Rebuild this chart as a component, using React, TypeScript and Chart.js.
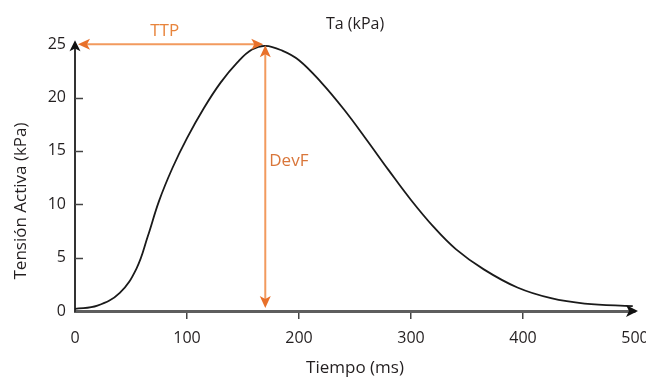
import React, { useEffect, useRef } from "react";
import { Chart, registerables } from "chart.js";

Chart.register(...registerables);

// Data
const timeMs = [0, 20, 40, 55, 65, 75, 87, 100, 115, 130, 145, 158, 170, 185, 200, 220, 240, 260, 280, 300, 320, 340, 365, 395, 425, 455, 498];
const tensionKPa = [0.2, 0.5, 1.7, 4.0, 7.0, 10.3, 13.4, 16.2, 19.0, 21.4, 23.3, 24.5, 24.85, 24.4, 23.5, 21.4, 18.9, 16.1, 13.2, 10.4, 7.9, 5.8, 3.9, 2.2, 1.2, 0.7, 0.45];
const xTicks = [0, 100, 200, 300, 400, 500];
const yTicks = [0, 5, 10, 15, 20, 25];
const ttpStart = 0;
const peakTime = 169;
const peakLevel = 25;
const devFLabelLevel = 14;

const FONT = "'Open Sans', 'Noto Sans', sans-serif";
const TEXT = "#231f20";
const ORANGE_LINE = "#f29a5e";
const ORANGE_HEAD = "#e8702a";
const ORANGE_TEXT = "#e8843c";

function head(ctx: CanvasRenderingContext2D, x: number, y: number, dx: number, dy: number, len: number, half: number, color: string) {
  const bx = x - dx * len;
  const by = y - dy * len;
  const px = -dy;
  const py = dx;
  ctx.beginPath();
  ctx.moveTo(x, y);
  ctx.lineTo(bx + px * half, by + py * half);
  ctx.lineTo(bx + dx * len * 0.25, by + dy * len * 0.25);
  ctx.lineTo(bx - px * half, by - py * half);
  ctx.closePath();
  ctx.fillStyle = color;
  ctx.fill();
}

const annotationPlugin = {
  id: "annotations",
  afterDatasetsDraw(chart: any) {
    const ctx: CanvasRenderingContext2D = chart.ctx;
    const xs = chart.scales.x;
    const ys = chart.scales.y;
    ctx.save();

    // inward y tick marks
    ctx.strokeStyle = "#444";
    ctx.lineWidth = 1.5;
    const ax = xs.getPixelForValue(0);
    yTicks.forEach((v) => {
      if (v === 0 || v === 25) return;
      const y = Math.round(ys.getPixelForValue(v)) + 0.5;
      ctx.beginPath();
      ctx.moveTo(ax, y);
      ctx.lineTo(ax + 8, y);
      ctx.stroke();
    });

    // axis arrow heads
    const y0 = ys.getPixelForValue(0);
    const yTop = ys.getPixelForValue(25);
    head(ctx, ax, yTop - 4, 0, -1, 11, 5.5, "#111");
    const xEnd = xs.getPixelForValue(500);
    head(ctx, xEnd + 3, y0, 1, 0, 12, 6, "#111");

    // TTP arrow
    const tx0 = xs.getPixelForValue(ttpStart) + 3;
    const tx1 = xs.getPixelForValue(peakTime) - 1;
    const ty = ys.getPixelForValue(peakLevel);
    ctx.strokeStyle = ORANGE_LINE;
    ctx.lineWidth = 2;
    ctx.beginPath();
    ctx.moveTo(tx0 + 6, ty);
    ctx.lineTo(tx1 - 6, ty);
    ctx.stroke();
    head(ctx, tx0, ty, -1, 0, 12, 5.5, ORANGE_HEAD);
    head(ctx, tx1, ty, 1, 0, 12, 5.5, ORANGE_HEAD);

    // DevF arrow
    const dx = xs.getPixelForValue(peakTime) + 1;
    const dy0 = ys.getPixelForValue(peakLevel) + 1;
    const dy1 = ys.getPixelForValue(0) - 3;
    ctx.beginPath();
    ctx.moveTo(dx, dy0 + 6);
    ctx.lineTo(dx, dy1 - 6);
    ctx.stroke();
    head(ctx, dx, dy0, 0, -1, 12, 5.5, ORANGE_HEAD);
    head(ctx, dx, dy1, 0, 1, 12, 5.5, ORANGE_HEAD);

    // labels
    ctx.fillStyle = ORANGE_TEXT;
    ctx.font = `17px ${FONT}`;
    ctx.textAlign = "center";
    ctx.textBaseline = "middle";
    ctx.fillText("TTP", (tx0 + tx1) / 2 - 6, ty - 13);
    ctx.fillStyle = "#d9763a";
    ctx.textAlign = "left";
    ctx.fillText("DevF", dx + 4, ys.getPixelForValue(devFLabelLevel));

    // y axis title
    ctx.fillStyle = TEXT;
    ctx.font = `17px ${FONT}`;
    ctx.translate(21, 201);
    ctx.rotate(-Math.PI / 2);
    ctx.textAlign = "center";
    ctx.fillText("Tensión Activa (kPa)", 0, 0);
    ctx.restore();
  },
};

export default function App() {
  const ref = useRef<HTMLCanvasElement | null>(null);

  useEffect(() => {
    if (!ref.current) return;
    const chart = new Chart(ref.current, {
      type: "line",
      data: {
        datasets: [
          {
            label: "Ta (kPa)",
            data: timeMs.map((t, i) => ({ x: t, y: tensionKPa[i] })),
            borderColor: "#1a1a1a",
            borderWidth: 1.8,
            pointRadius: 0,
            fill: false,
            tension: 0.4,
          },
        ],
      },
      options: {
        animation: false,
        responsive: true,
        maintainAspectRatio: false,
        layout: { padding: { left: 0, right: 11, top: 0, bottom: 0 } },
        plugins: {
          legend: { display: false },
          tooltip: { enabled: false },
          title: {
            display: true,
            text: "Ta (kPa)",
            fullSize: false,
            color: TEXT,
            font: { family: FONT, size: 16, weight: "normal" },
            padding: { top: 15, bottom: 10 },
          },
        },
        scales: {
          x: {
            type: "linear",
            min: 0,
            max: 500,
            afterBuildTicks: (s: any) => {
              s.ticks = xTicks.map((v) => ({ value: v }));
            },
            afterFit: (s: any) => {
              s.height = 67;
              s.paddingLeft = 0;
              s.paddingRight = 0;
            },
            border: { display: true, color: "#5e5e5e", width: 3 },
            grid: {
              display: true,
              drawOnChartArea: false,
              drawTicks: true,
              tickLength: 8,
              lineWidth: 1.5,
              color: (c: any) => (c.tick && (c.tick.value === 0 || c.tick.value === 500) ? "rgba(0,0,0,0)" : "#444"),
            },
            ticks: {
              color: TEXT,
              font: { family: FONT, size: 16 },
              padding: 10,
              maxRotation: 0,
              autoSkip: false,
            },
            title: {
              display: true,
              text: "Tiempo (ms)",
              color: TEXT,
              font: { family: FONT, size: 17 },
              padding: { top: 4, bottom: 0 },
            },
          },
          y: {
            type: "linear",
            min: 0,
            max: 25,
            afterBuildTicks: (s: any) => {
              s.ticks = yTicks.map((v) => ({ value: v }));
            },
            afterFit: (s: any) => {
              s.width = 75;
            },
            border: { display: true, color: "#333", width: 2 },
            grid: { display: false, drawTicks: false },
            ticks: {
              color: TEXT,
              font: { family: FONT, size: 16 },
              padding: 9,
            },
            title: { display: false },
          },
        },
      },
      plugins: [annotationPlugin],
    } as any);
    return () => chart.destroy();
  }, []);

  return (
    <div style={{ position: "absolute", left: 0, top: 0, width: 646, height: 378 }}>
      <canvas ref={ref} />
    </div>
  );
}
